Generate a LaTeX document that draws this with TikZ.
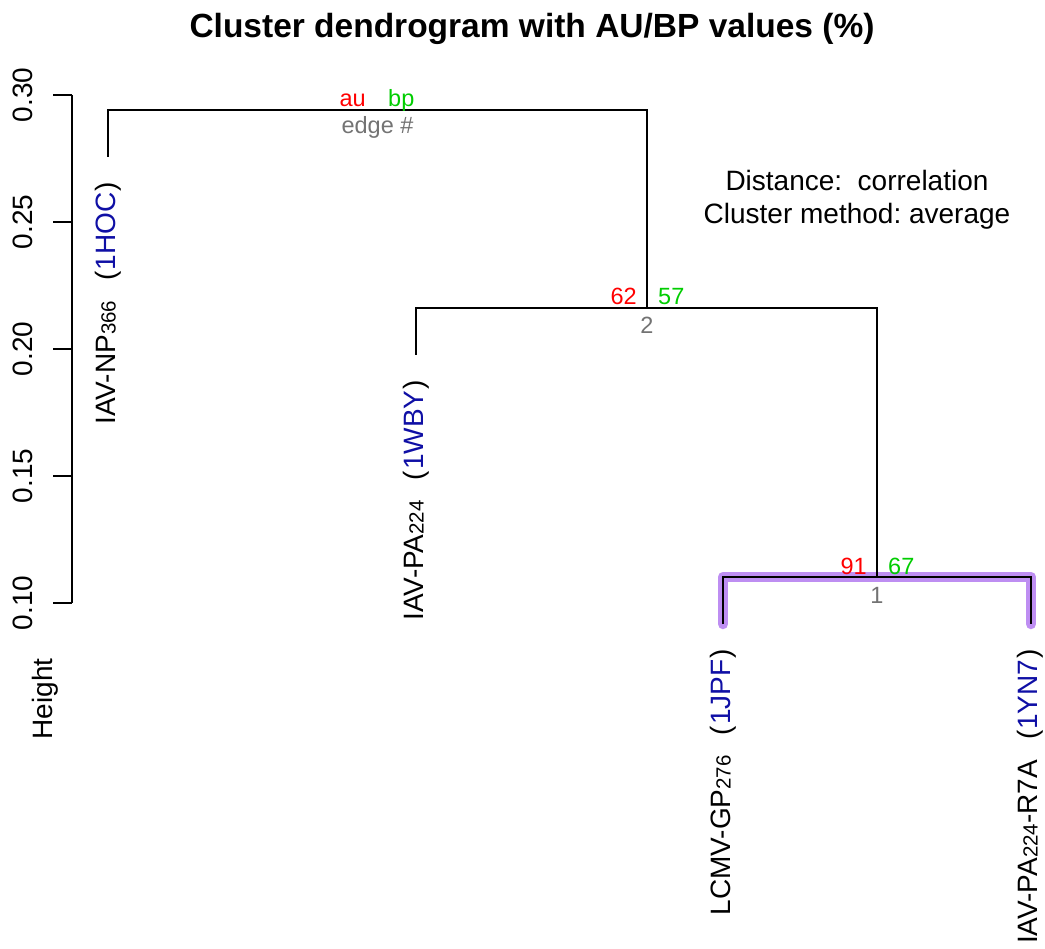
\documentclass[tikz,border=0pt]{standalone}
\usepackage{fontspec}
\setmainfont{Liberation Sans}
\usetikzlibrary{calc}
\frenchspacing

\definecolor{aured}{RGB}{255,0,0}
\definecolor{bpgreen}{RGB}{0,205,0}
\definecolor{edgegray}{RGB}{115,115,115}
\definecolor{pdbblue}{RGB}{15,15,165}
\definecolor{clusterpurple}{RGB}{190,142,242}

\newcommand{\lowidx}[1]{\raisebox{-0.5pt}{\fontsize{20.5}{20.5}\selectfont #1}}
\newcommand{\leaflabel}[2]{#1\hspace{20pt}(\hspace{1pt}\textcolor{pdbblue}{#2}\hspace{1pt})}

\tikzset{
  base font/.style={font=\fontsize{28}{33}\selectfont},
  tree/.style={line width=1.8pt, line join=miter},
  highlight/.style={line width=10.5pt, draw=clusterpurple, line cap=round, line join=round},
  leaf/.style={base font, rotate=90, anchor=base east, inner sep=0pt},
  ticklabel/.style={base font, rotate=90, anchor=base, inner sep=0pt},
  pvau/.style={font=\fontsize{23.5}{26}\selectfont, text=aured, anchor=base east, inner sep=0pt},
  pvbp/.style={font=\fontsize{23.5}{26}\selectfont, text=bpgreen, anchor=base west, inner sep=0pt},
  pvedge/.style={font=\fontsize{23.5}{26}\selectfont, text=edgegray, anchor=base, inner sep=0pt},
  note/.style={base font, anchor=base, inner sep=0pt}
}

\begin{document}
\begin{tikzpicture}[x=1pt, y=-1pt]
  \useasboundingbox (0,0) rectangle (1045,949);
  \fill[white] (0,0) rectangle (1045,949);

  % title
  \node[anchor=base, inner sep=0pt, font=\bfseries\fontsize{33.5}{38}\selectfont] (title) at (532,38)
    {Cluster dendrogram with AU/BP values (\%)};

  % height axis
  \draw[line width=1.6pt] (72,95) -- (72,603);
  \foreach \v/\y in {0.30/95, 0.25/222, 0.20/349, 0.15/476, 0.10/603} {
    \draw[line width=1.6pt] (53,\y) -- (72,\y);
    \node[ticklabel] at (32,\y) {\v};
  }
  \node[ticklabel] (height) at (52,699) {Height};

  % leaf ends and merge points
  \coordinate (l1) at (108,157);
  \coordinate (l2) at (416,355);
  \coordinate (l3) at (723,624);
  \coordinate (l4) at (1031,624);
  \coordinate (m1) at (877,577);
  \coordinate (m2) at (647,308);
  \coordinate (m3) at (377,110);

  % highlighted cluster
  \draw[highlight] (l3) |- (m1) -| (l4);

  % dendrogram branches
  \draw[tree] (l1) |- (m3) -| (m2);
  \draw[tree] (l2) |- (m2) -| (m1);
  \draw[tree] (l3) |- (m1) -| (l4);

  % leaf labels
  \node[leaf] (t1) at ($(l1)+(7,25)$) {\leaflabel{IAV-NP\lowidx{366}}{1HOC}};
  \node[leaf] (t2) at ($(l2)+(7,25)$) {\leaflabel{IAV-PA\lowidx{224}}{1WBY}};
  \node[leaf] (t3) at ($(l3)+(7,25)$) {\leaflabel{LCMV-GP\lowidx{276}}{1JPF}};
  \node[leaf] (t4) at ($(l4)+(6,25)$) {\leaflabel{IAV-PA\lowidx{224}-R7A}{1YN7}};

  % AU / BP values and edge numbers
  \node[pvau]   (au2) at ($(m2)+(-10,-3)$) {62};
  \node[pvbp]   (bp2) at ($(m2)+(11,-3)$) {57};
  \node[pvedge] (e2)  at ($(m2)+(0,26)$) {2};
  \node[pvau]   (au1) at ($(m1)+(-10,-3)$) {91};
  \node[pvbp]   (bp1) at ($(m1)+(11,-3)$) {67};
  \node[pvedge] (e1)  at ($(m1)+(0,26)$) {1};

  % key for the values
  \node[pvau]   (keyau) at (366,107) {au};
  \node[pvbp]   (keybp) at (388,107) {bp};
  \node[pvedge] (keyedge) at (377.5,134) {edge \#};

  % method notes
  \node[note] (dist) at (857,191) {Distance:\ \ correlation};
  \node[note] (meth) at (857,224) {Cluster method: average};
\end{tikzpicture}
\end{document}
